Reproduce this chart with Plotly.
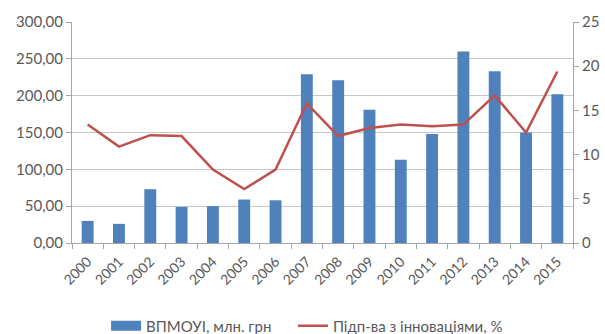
import plotly.graph_objects as go

years = [str(y) for y in range(2000, 2016)]
vpmoui = [30, 26, 73, 49, 50, 59, 58, 229, 221, 181, 113, 148, 260, 233, 150, 202]
innov = [13.4, 10.9, 12.2, 12.1, 8.3, 6.1, 8.3, 15.8, 12.1, 13.0, 13.4, 13.2, 13.4, 16.7, 12.5, 19.4]

font_fam = "Lato, Open Sans, sans-serif"
grey = "#595959"
bar_col = "#4F81BD"
line_col = "#C0504D"

fig = go.Figure()
fig.add_trace(go.Bar(x=years, y=vpmoui, name="ВПМОУІ, млн. грн", showlegend=False,
                     marker=dict(color=bar_col, line=dict(width=0)), yaxis="y"))
# legend swatch for the bars (wide rectangle, as in the reference)
fig.add_trace(go.Scatter(x=[None], y=[None], name="ВПМОУІ, млн. грн", mode="lines",
                         line=dict(color=bar_col, width=10), yaxis="y", legend="legend"))
fig.add_trace(go.Scatter(x=years, y=innov, name="Підп-ва з інноваціями, %",
                         mode="lines", line=dict(color=line_col, width=2.5), yaxis="y2",
                         legend="legend2"))

leg_common = dict(orientation="h", xanchor="left", yref="container", y=0.024,
                  yanchor="middle", font=dict(size=15, color=grey), itemwidth=30,
                  bgcolor="rgba(0,0,0,0)")

fig.update_layout(
    width=605, height=334,
    margin=dict(l=72, r=32, t=22, b=91, autoexpand=False),
    paper_bgcolor="white", plot_bgcolor="white",
    separators=", ",
    bargap=0.62,
    font=dict(family=font_fam, size=15, color=grey),
    showlegend=True,
    legend=dict(x=0.068, **leg_common),
    legend2=dict(x=0.441, **leg_common),
    xaxis=dict(type="category", tickangle=-45, tickson="boundaries", ticks="outside",
               ticklen=5, tickcolor="#A6A6A6", showline=True, linecolor="#A6A6A6",
               showgrid=False, automargin=False, ticklabelstandoff=4,
               tickfont=dict(size=14, color=grey)),
    yaxis=dict(range=[0, 300], dtick=50, tickformat=".2f", showgrid=True,
               gridcolor="#C8C8C8", gridwidth=1, showline=True, linecolor="#A6A6A6",
               ticks="outside", ticklen=5, tickcolor="#A6A6A6", zeroline=False,
               automargin=False, tickfont=dict(size=15, color=grey)),
    yaxis2=dict(range=[0, 25], dtick=5, overlaying="y", side="right", showgrid=False,
                showline=True, linecolor="#A6A6A6", ticks="outside", ticklen=5,
                tickcolor="#A6A6A6", zeroline=False, automargin=False,
                tickfont=dict(size=15, color=grey)),
)

fig.write_html("out.html")
